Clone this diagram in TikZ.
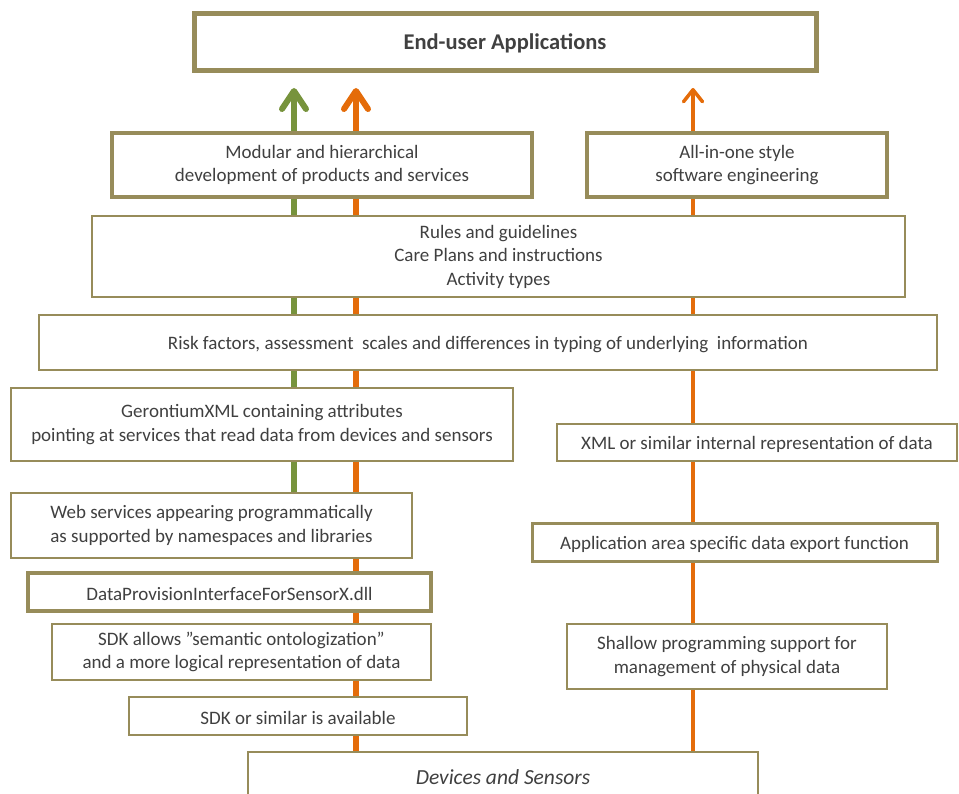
\documentclass[tikz,border=0pt]{standalone}
\usepackage{fontspec}
\setmainfont{Carlito}
\usetikzlibrary{arrows.meta}
\pgfdeclarelayer{bg}
\pgfsetlayers{bg,main}
\definecolor{frame}{HTML}{978C5A}
\definecolor{ogreen}{HTML}{77933C}
\definecolor{oorange}{HTML}{E46C0A}
\definecolor{txt}{HTML}{404040}
\begin{document}
\begin{tikzpicture}[x=1pt,y=-1pt,
  box/.style={draw=frame, fill=white, line width=2pt, inner sep=0pt, outer sep=0pt,
    align=center, text=txt, font=\fontsize{19}{23.5}\selectfont,
    execute at begin node={\rule{0pt}{18pt}}},
  thickbox/.style={box, line width=3.5pt},
  topbox/.style={box, line width=5pt, font=\fontsize{22.5}{26}\selectfont\bfseries},
  bigarrow/.style={line width=6pt, -{Straight Barb[length=18pt,width=24pt,round]}, shorten >=17pt},
  smallarrow/.style={line width=3.5pt, -{Straight Barb[length=12pt,width=19pt,round]}, shorten >=17pt}
]
\useasboundingbox (0,0) rectangle (959,794);
\clip (0,0) rectangle (959,794);

\node[topbox, minimum width=622pt, minimum height=57pt] (app) at (505,42.5) {End-user Applications};
\node[thickbox, minimum width=420pt, minimum height=64pt] (mod) at (322,165) {Modular and hierarchical\\development of products and services};
\node[thickbox, minimum width=300pt, minimum height=64pt] (aio) at (737,165) {All-in-one style\\software engineering};
\node[box, minimum width=813pt, minimum height=81pt] (rules) at (498.5,256.5) {Rules and guidelines\\Care Plans and instructions\\Activity types};
\node[box, line width=2.5pt, minimum width=898pt, minimum height=55pt] (risk) at (488,342.5) {Risk factors, assessment\ \ scales and differences in typing of underlying\ \ information};
\node[box, minimum width=502pt, minimum height=73pt] (geron) at (262,424.5) {GerontiumXML containing attributes\\pointing at services that read data from devices and sensors};
\node[box, minimum width=400pt, minimum height=37pt] (xml) at (757,442.5) {XML or similar internal representation of data};
\node[box, minimum width=401pt, minimum height=65pt] (web) at (211.5,525.5) {Web services appearing programmatically\\as supported by namespaces and libraries};
\node[box, line width=3pt, minimum width=405pt, minimum height=38pt] (appx) at (734.5,542) {Application area specific data export function};
\node[thickbox, minimum width=403pt, minimum height=38pt] (dpi) at (229.5,592) {DataProvisionInterfaceForSensorX.dll};
\node[box, minimum width=379pt, minimum height=56pt] (sdka) at (241.5,652) {SDK allows ”semantic ontologization”\\and a more logical representation of data};
\node[box, minimum width=320pt, minimum height=65pt] (shal) at (727,656.5) {Shallow programming support for\\management of physical data};
\node[box, minimum width=338pt, minimum height=38pt] (sdks) at (298,716) {SDK or similar is available};
\node[box, minimum width=510pt, minimum height=48pt, font=\fontsize{21.5}{24}\selectfont\itshape] (dev) at (503,776) {Devices and Sensors};

\coordinate (gx) at (294,0);
\coordinate (ox) at (356,0);
\coordinate (rx) at (693,0);
\begin{pgfonlayer}{bg}
\draw[bigarrow, ogreen] (web.north -| gx) -- (app.south -| gx);
\draw[bigarrow, oorange] (dev.north -| ox) -- (app.south -| ox);
\draw[smallarrow, oorange] (dev.north -| rx) -- (app.south -| rx);
\end{pgfonlayer}
\end{tikzpicture}
\end{document}
